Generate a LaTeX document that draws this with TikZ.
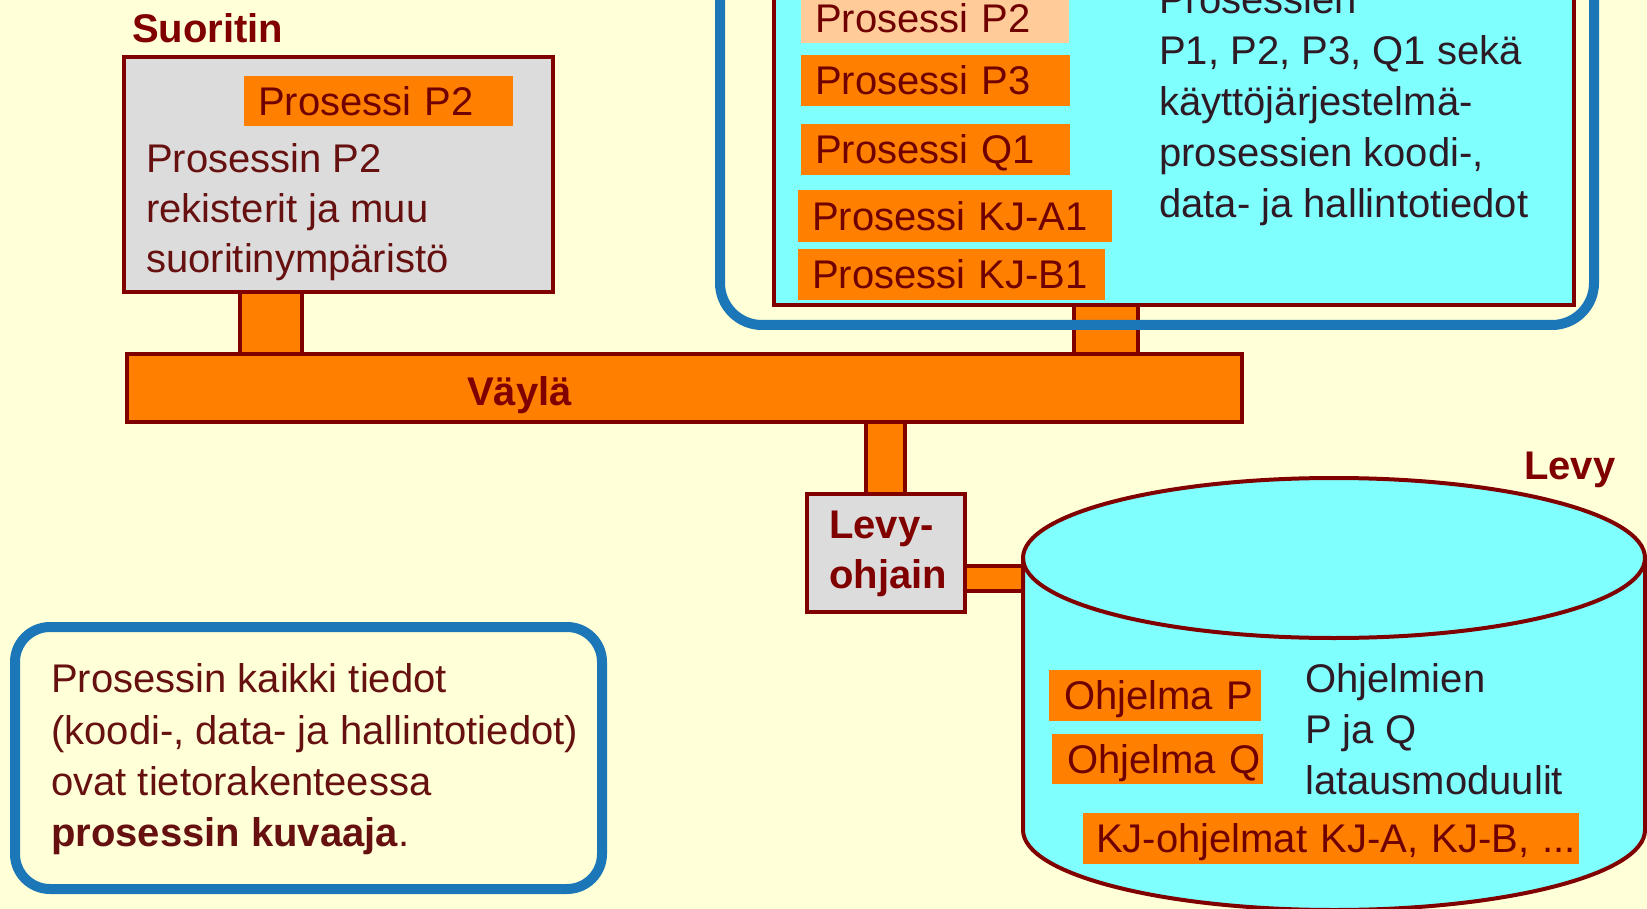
\documentclass[tikz,border=0pt]{standalone}
\usepackage{fontspec}
\setmainfont{Liberation Sans}
\usetikzlibrary{calc}

\definecolor{bg}{HTML}{FFFFD8}
\definecolor{orng}{HTML}{FF8000}
\definecolor{peach}{HTML}{FFCC99}
\definecolor{cyanf}{HTML}{80FFFF}
\definecolor{grayf}{HTML}{DCDCDC}
\definecolor{dred}{HTML}{800000}
\definecolor{frameblue}{HTML}{1C77B8}
\definecolor{bodytxt}{HTML}{661010}
\definecolor{darktxt}{HTML}{2E1A24}
\definecolor{boxtxt}{HTML}{700000}

\newcommand\fs{\fontsize{40pt}{51pt}\selectfont}

\tikzset{
  unit/.style={anchor=north west, outer sep=0pt, inner sep=0pt},
  hwbox/.style={unit, fill=grayf, draw=dred, line width=4pt},
  membox/.style={unit, fill=cyanf, draw=dred, line width=4pt},
  busbox/.style={unit, fill=orng, draw=dred, line width=4pt},
  prc/.style={unit, fill=orng, inner xsep=14pt, text height=28.6pt, text depth=0pt,
              align=left, font=\fs, text=boxtxt},
  outline/.style={unit, draw=frameblue, line width=10pt},
  txt/.style={anchor=base west, inner sep=0pt, font=\fs, text=bodytxt},
  dtxt/.style={txt, text=darktxt},
  ttl/.style={anchor=base west, inner sep=0pt, font=\fs\bfseries, text=dred},
  bar/.style={fill=orng, draw=dred, line width=4pt},
}

\begin{document}
\begin{tikzpicture}[x=1pt, y=-1pt]
  \path[use as bounding box, fill=bg] (0,0) rectangle (1647,909);
  \clip (0,0) rectangle (1647,909);

  % units
  \node[hwbox, minimum width=429pt, minimum height=235pt] (cpu) at (124,57) {};
  \node[busbox, minimum width=1115pt, minimum height=68pt] (bus) at (127,354) {};
  \node[hwbox, minimum width=158pt, minimum height=118pt] (ctrl) at (807,494) {};
  \node[membox, minimum width=800pt, minimum height=335pt] (mem) at (774,-30) {};
  \coordinate (diskjoin) at (1023,566);

  % bus connections
  \draw[bar] ($(cpu.south west)+(116,0)$) rectangle ($(bus.north west)+(175,0)$);
  \draw[bar] ($(mem.south west)+(300,0)$) rectangle ($(bus.north west)+(1011,0)$);
  \draw[bar] ($(bus.south west)+(739,0)$) rectangle ($(ctrl.north west)+(98,0)$);
  \draw[bar] ($(ctrl.south east)+(0,-21)$) rectangle (diskjoin);

  % redraw unit borders over connector ends
  \node[hwbox, minimum width=429pt, minimum height=235pt] at (124,57) {};
  \node[busbox, minimum width=1115pt, minimum height=68pt] at (127,354) {};
  \node[hwbox, minimum width=158pt, minimum height=118pt] at (807,494) {};
  \node[membox, minimum width=800pt, minimum height=335pt] at (774,-30) {};

  % memory frame
  \node[outline, rounded corners=42pt, minimum width=874pt, minimum height=385pt] (memframe) at (720,-60) {};

  % disk
  \path[draw=dred, fill=cyanf, line width=4pt]
    (1023,558) -- (1023,830)
    arc[start angle=180, end angle=360, x radius=311pt, y radius=80pt]
    -- (1645,558)
    arc[start angle=0, end angle=180, x radius=311pt, y radius=80pt] -- cycle;
  \draw[dred, line width=4pt] (1023,558)
    arc[start angle=180, end angle=360, x radius=311pt, y radius=80pt];

  % note frame
  \node[outline, rounded corners=35pt, minimum width=587pt, minimum height=262pt] (note) at (15,627) {};

  % titles
  \node[ttl] (cputitle) at (132,43) {Suoritin};
  \node[ttl] (bustitle) at (467,405) {Väylä};
  \node[ttl] (ctrl1) at (829,538) {Levy-};
  \node[ttl] (ctrl2) at (829,588) {ohjain};
  \node[ttl] (disktitle) at (1524,479) {Levy};

  % processor contents
  \node[prc, text width=241pt, minimum height=50pt] (cpup2) at (244,76) {\mbox{Prosessi P2}};
  \node[txt] (cpu1) at (146,173) {Prosessin P2};
  \node[txt] (cpu2) at (146,223) {rekisterit ja muu};
  \node[txt] (cpu3) at (146,273) {suoritinympäristö};

  % memory contents
  \node[prc, fill=peach, text width=240pt, minimum height=50pt] (mp2) at (801,-7) {\mbox{Prosessi P2}};
  \node[prc, text width=241pt, minimum height=51pt] (mp3) at (801,55) {\mbox{Prosessi P3}};
  \node[prc, text width=241pt, minimum height=51pt] (mq1) at (801,124) {\mbox{Prosessi Q1}};
  \node[prc, text width=286pt, minimum height=52pt] (mka1) at (798,190) {\mbox{Prosessi KJ-A1}};
  \node[prc, text width=279pt, minimum height=51pt] (mkb1) at (798,249) {\mbox{Prosessi KJ-B1}};
  \node[dtxt] (mem1) at (1159,14) {Prosessien};
  \node[dtxt] (mem2) at (1159,65) {P1, P2, P3, Q1 sekä};
  \node[dtxt] (mem3) at (1159,116) {käyttöjärjestelmä-};
  \node[dtxt] (mem4) at (1159,167) {prosessien koodi-,};
  \node[dtxt] (mem5) at (1159,218) {data- ja hallintotiedot};

  % disk contents
  \node[prc, inner xsep=15pt, text width=182pt, minimum height=51pt] (dp) at (1049,670) {\mbox{Ohjelma P}};
  \node[prc, inner xsep=15pt, text width=181pt, minimum height=50pt] (dq) at (1052,734) {\mbox{Ohjelma Q}};
  \node[prc, inner xsep=13pt, text width=470pt, minimum height=51pt] (dkj) at (1083,813) {\mbox{KJ-ohjelmat KJ-A, KJ-B, ...}};
  \node[dtxt] (disk1) at (1305,692) {Ohjelmien};
  \node[dtxt] (disk2) at (1305,743) {P ja Q};
  \node[dtxt] (disk3) at (1305,794) {latausmoduulit};

  % note contents
  \node[txt] (note1) at (51,692) {Prosessin kaikki tiedot};
  \node[txt] (note2) at (51,744) {(koodi-, data- ja hallintotiedot)};
  \node[txt] (note3) at (51,795) {ovat tietorakenteessa};
  \node[txt] (note4) at (51,846) {{\bfseries prosessin kuvaaja}.};
\end{tikzpicture}
\end{document}
